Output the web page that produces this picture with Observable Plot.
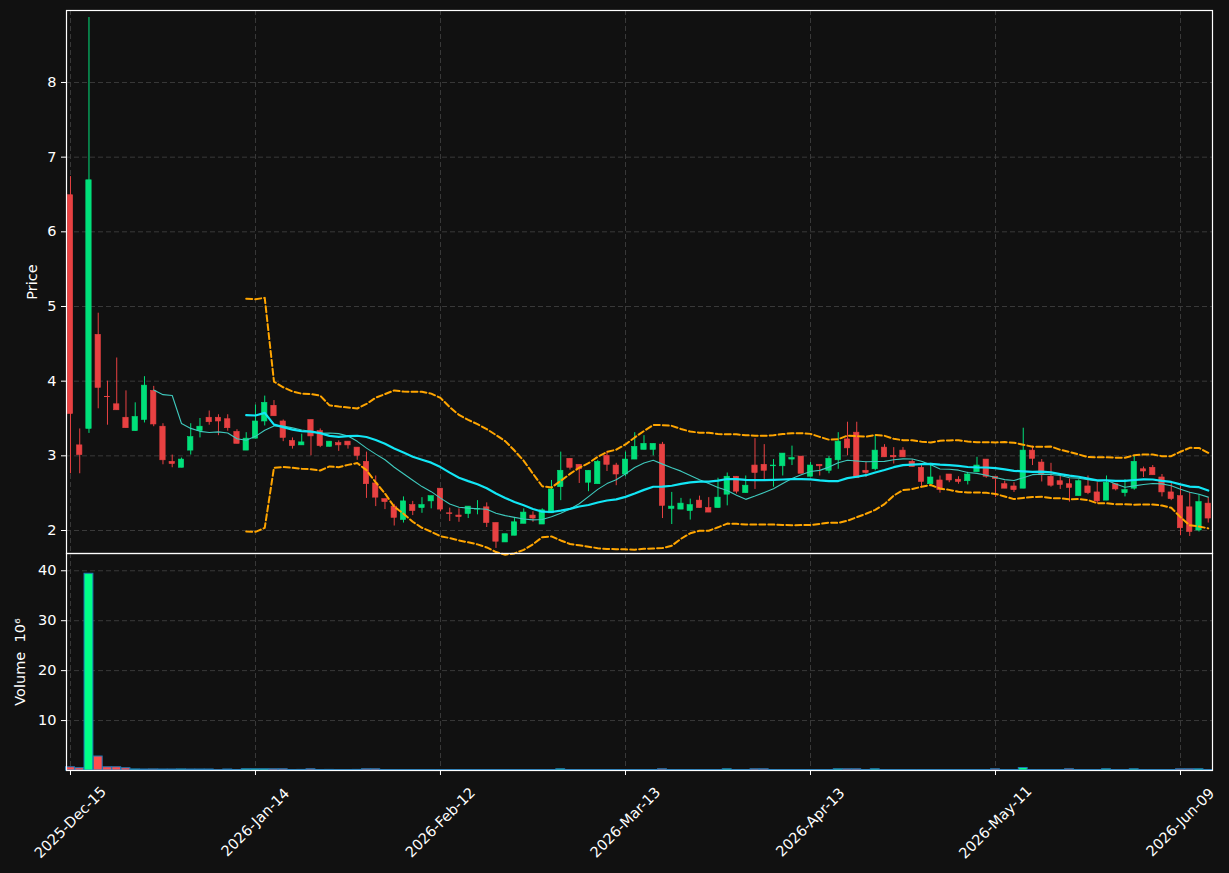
<!DOCTYPE html>
<html><head><meta charset="utf-8">
<script src="https://cdn.jsdelivr.net/npm/d3@7"></script>
<script src="https://cdn.jsdelivr.net/npm/@observablehq/plot@0.6"></script>
<style>
html,body{margin:0;padding:0;background:#111111;}
#chart{position:relative;width:1229px;height:873px;background:#111111;overflow:hidden;font-family:"DejaVu Sans",sans-serif;}
#top,#bottom{position:absolute;left:0;}
#top{top:0px}
#bottom{top:553px}
</style></head><body><div id="chart"><div id="top"></div><div id="bottom"></div></div>
<script>
const opens = [
6.49,3.14,3.36,4.62,3.79,3.69,3.51,3.33,3.48,3.87,
3.39,2.92,2.84,3.07,3.33,3.51,3.51,3.49,3.32,3.07,
3.23,3.46,3.67,3.46,3.20,3.14,3.48,3.33,3.12,3.17,
3.19,3.11,2.92,2.63,2.42,2.32,2.14,2.34,2.30,2.39,
2.56,2.23,2.20,2.22,2.28,2.31,2.10,1.84,1.93,2.09,
2.20,2.08,2.23,2.58,2.96,2.88,2.64,2.62,3.00,2.87,
2.75,2.95,3.08,3.08,3.15,2.29,2.28,2.26,2.40,2.30,
2.30,2.48,2.72,2.50,2.87,2.88,2.86,2.86,2.95,2.99,
2.72,2.88,2.80,2.94,3.22,3.31,2.80,2.82,3.11,3.00,
3.07,2.92,2.84,2.62,2.67,2.75,2.68,2.66,2.78,2.95,
2.72,2.62,2.59,2.56,3.07,2.91,2.72,2.66,2.62,2.46,
2.59,2.51,2.40,2.62,2.50,2.56,2.82,2.84,2.71,2.51,
2.46,2.31,2.00,2.36];
const highs = [
6.74,3.36,8.87,4.91,4.00,4.31,3.87,3.71,4.06,3.93,
3.43,3.01,2.97,3.43,3.50,3.60,3.55,3.55,3.35,3.31,
3.68,3.80,3.74,3.48,3.24,3.29,3.48,3.36,3.19,3.20,
3.19,3.11,3.05,2.73,2.42,2.35,2.45,2.39,2.44,2.46,
2.56,2.30,2.29,2.32,2.40,2.37,2.10,1.95,2.16,2.29,
2.25,2.29,2.67,3.05,2.96,2.88,2.80,2.94,3.06,2.90,
3.05,3.31,3.27,3.16,3.18,2.51,2.43,2.42,2.46,2.44,
2.70,2.77,2.72,2.73,3.23,3.15,2.95,3.03,3.13,2.99,
2.91,2.88,2.99,3.31,3.45,3.45,2.92,3.28,3.15,3.11,
3.11,2.95,2.88,2.90,2.73,2.75,2.72,2.78,2.98,2.95,
2.72,2.66,2.64,3.37,3.13,2.95,2.90,2.74,2.69,2.68,
2.73,2.64,2.73,2.62,2.68,3.00,2.85,2.87,2.75,2.64,
2.59,2.51,2.48,2.44];
const lows = [
2.76,2.76,3.30,3.63,3.41,3.61,3.37,3.33,3.44,3.39,
2.88,2.84,2.84,3.01,3.24,3.41,3.27,3.33,3.16,3.07,
3.23,3.40,3.53,3.19,3.09,3.14,3.00,3.11,3.12,3.06,
3.09,2.94,2.43,2.32,2.28,2.06,2.10,2.20,2.23,2.29,
2.25,2.12,2.11,2.16,2.21,2.04,1.76,1.84,1.93,2.09,
2.11,2.08,2.23,2.40,2.81,2.63,2.52,2.62,2.79,2.60,
2.72,2.95,3.08,3.00,2.16,2.08,2.28,2.14,2.30,2.24,
2.30,2.33,2.49,2.50,2.55,2.68,2.58,2.73,2.87,2.76,
2.72,2.73,2.76,2.82,3.00,2.70,2.71,2.80,2.98,2.89,
2.98,2.85,2.57,2.62,2.50,2.64,2.62,2.61,2.78,2.70,
2.44,2.56,2.51,2.56,2.87,2.65,2.58,2.55,2.38,2.46,
2.48,2.36,2.40,2.53,2.45,2.54,2.71,2.74,2.45,2.40,
1.93,1.92,1.98,2.10];
const closes = [
3.56,3.01,6.69,3.91,3.785,3.61,3.37,3.52,3.94,3.42,
2.94,2.89,2.95,3.25,3.39,3.45,3.46,3.37,3.16,3.23,
3.46,3.71,3.53,3.24,3.13,3.18,3.26,3.13,3.19,3.14,
3.14,3.00,2.62,2.44,2.38,2.17,2.39,2.26,2.34,2.46,
2.28,2.22,2.18,2.32,2.29,2.10,1.85,1.95,2.11,2.24,
2.16,2.27,2.55,2.80,2.84,2.82,2.80,2.92,2.88,2.75,
2.95,3.12,3.16,3.16,2.33,2.32,2.36,2.34,2.30,2.24,
2.44,2.72,2.52,2.60,2.77,2.80,2.87,3.03,2.97,2.76,
2.87,2.86,2.96,3.19,3.10,2.70,2.77,3.07,2.98,2.98,
2.98,2.85,2.65,2.71,2.54,2.67,2.65,2.75,2.87,2.72,
2.69,2.56,2.54,3.07,2.96,2.74,2.60,2.61,2.57,2.66,
2.50,2.39,2.64,2.55,2.54,2.92,2.79,2.74,2.51,2.42,
2.03,1.98,2.38,2.16];
// volume in millions
const volumes = [
0.65,0.46,39.4,2.8,0.65,0.65,0.46,0.22,0.2,0.22,
0.2,0.2,0.22,0.2,0.2,0.2,0.08,0.2,0.1,0.25,
0.25,0.25,0.25,0.25,0.1,0.12,0.25,0.1,0.12,0.1,
0.1,0.12,0.25,0.25,0.1,0.1,0.1,0.1,0.1,0.1,
0.1,0.1,0.1,0.1,0.1,0.1,0.1,0.1,0.1,0.1,
0.1,0.1,0.1,0.25,0.1,0.1,0.1,0.1,0.1,0.1,
0.1,0.1,0.1,0.1,0.25,0.1,0.1,0.1,0.1,0.1,
0.1,0.25,0.1,0.1,0.25,0.25,0.1,0.1,0.1,0.1,
0.1,0.1,0.1,0.25,0.25,0.25,0.1,0.25,0.1,0.1,
0.1,0.1,0.1,0.1,0.1,0.1,0.1,0.1,0.1,0.1,
0.25,0.1,0.1,0.5,0.1,0.1,0.1,0.1,0.25,0.1,
0.1,0.1,0.25,0.1,0.1,0.25,0.1,0.1,0.1,0.1,
0.25,0.25,0.25,0.1];
const tickIdx = [0,20,40,60,80,100,120];
const tickLabels = ["2025-Dec-15","2026-Jan-14","2026-Feb-12","2026-Mar-13","2026-Apr-13","2026-May-11","2026-Jun-09"];
const priceTicks = [2,3,4,5,6,7,8];
const volTicks = [10,20,30,40];

const UP = "#00e07a", DOWN = "#e84142";
const VUP = "#00ff88", VDOWN = "#ff4d4d";
const GRID = "#3a3a3a";

const candles = closes.map((c,i)=>({i, o:opens[i], h:highs[i], l:lows[i], c, v:volumes[i], up: c>=opens[i]}));

// indicators (rolling on closes, as the original chart library does)
function rollMean(n){ const out=[]; for(let i=n-1;i<closes.length;i++){ const w=closes.slice(i-n+1,i+1); out.push({i, y:d3.mean(w)});} return out; }
const ma10 = rollMean(10), ma20 = rollMean(20);
const bbU=[], bbL=[];
for(let i=19;i<closes.length;i++){
  const w=closes.slice(i-19,i+1), m=d3.mean(w);
  const sd=Math.sqrt(d3.mean(w.map(x=>(x-m)*(x-m))));
  bbU.push({i,y:m+2*sd}); bbL.push({i,y:m-2*sd});
}

const W=1229, xDom=[-0.43,123.46];
const baseStyle={background:"transparent",color:"white",fontFamily:"DejaVu Sans, sans-serif",fontSize:"14px",overflow:"visible"};

const topChart = Plot.plot({
  width:W, height:554, marginTop:10, marginBottom:1, marginLeft:66, marginRight:17,
  style:baseStyle,
  x:{domain:xDom, axis:null},
  y:{domain:[1.692,8.964], axis:null},
  marks:[
    Plot.gridX(tickIdx,{stroke:GRID,strokeOpacity:1,strokeDasharray:"5,3"}),
    Plot.gridY(priceTicks,{stroke:GRID,strokeOpacity:1,strokeDasharray:"5,3"}),
    Plot.axisY(priceTicks,{tickSize:5,tickPadding:5,fontSize:14.5,label:null,tickFormat:d=>String(d)}),
    Plot.text(["Price"],{frameAnchor:"left",dx:-34,rotate:-90,fill:"white",fontSize:14.5,textAnchor:"middle",lineAnchor:"middle"}),
    Plot.ruleX(candles,{x:"i",y1:"l",y2:"h",stroke:d=>d.up?UP:DOWN,strokeWidth:1}),
    Plot.rect(candles,{x1:d=>d.i-0.29,x2:d=>d.i+0.29,y1:"o",y2:"c",fill:d=>d.up?UP:DOWN,stroke:d=>d.up?UP:DOWN,strokeWidth:0.6}),
    Plot.line(bbU,{x:"i",y:"y",stroke:"#ffa500",strokeWidth:2,strokeDasharray:"6,3"}),
    Plot.line(bbL,{x:"i",y:"y",stroke:"#ffa500",strokeWidth:2,strokeDasharray:"6,3"}),
    Plot.line(ma10,{x:"i",y:"y",stroke:"#3fc9bd",strokeWidth:1.1}),
    Plot.line(ma20,{x:"i",y:"y",stroke:"#12e6f5",strokeWidth:2.2}),
    Plot.frame({stroke:"white",strokeWidth:1.2})
  ]
});

const botChart = Plot.plot({
  width:W, height:320, marginTop:0, marginBottom:103, marginLeft:66, marginRight:17,
  style:baseStyle,
  x:{domain:xDom, axis:null},
  y:{domain:[0,43.46], axis:null},
  marks:[
    Plot.gridX(tickIdx,{stroke:GRID,strokeOpacity:1,strokeDasharray:"5,3"}),
    Plot.gridY(volTicks,{stroke:GRID,strokeOpacity:1,strokeDasharray:"5,3"}),
    Plot.axisY(volTicks,{tickSize:5,tickPadding:5,fontSize:14.5,label:null,tickFormat:d=>String(d)}),
    Plot.axisX(tickIdx,{tickSize:5,tickFormat:()=>"",label:null}),
    Plot.text(["Volume  10\u2076"],{frameAnchor:"left",dx:-46,rotate:-90,fill:"white",fontSize:14.5,textAnchor:"middle",lineAnchor:"middle"}),
    Plot.rect(candles,{x1:d=>d.i-0.48,x2:d=>d.i+0.48,y1:0,y2:"v",fill:d=>d.up?VUP:VDOWN,stroke:"#1f77b4",strokeWidth:1}),
    Plot.text(tickIdx,{x:d=>d,text:(d,k)=>tickLabels[k],frameAnchor:"bottom",dy:52,rotate:-45,textAnchor:"middle",lineAnchor:"middle",fill:"white",fontSize:14.5}),
    Plot.frame({stroke:"white",strokeWidth:1.2})
  ]
});

document.getElementById("top").appendChild(topChart);
document.getElementById("bottom").appendChild(botChart);
</script>
</body></html>
